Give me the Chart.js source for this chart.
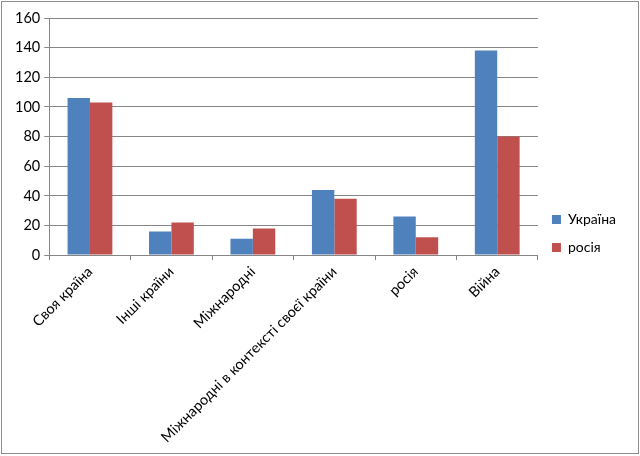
<!DOCTYPE html>
<html>
<head>
<meta charset="utf-8">
<script src="https://cdn.jsdelivr.net/npm/chart.js@4"></script>
<style>
  html, body { margin: 0; padding: 0; background: #fff; }
  #frame { position: absolute; left: 1px; top: 1px; width: 636px; height: 451px; border: 1px solid #8c8c8c; }
  #wrap { position: absolute; left: 0; top: 0; width: 640px; height: 456px; }
</style>
</head>
<body>
<div id="frame"></div>
<div id="wrap"><canvas id="myChart"></canvas></div>
<script>
const categories = ['Своя країна', 'Інші країни', 'Міжнародні', 'Міжнародні в контексті своєї країни', 'росія', 'Війна'];
const ukraineValues = [106, 16, 11, 44, 26, 138];
const russiaValues = [103, 22, 18, 38, 12, 80];
const yTicks = [0, 20, 40, 60, 80, 100, 120, 140, 160];

const gridColor = '#868686';
const fontFamily = 'Lato, "Noto Sans", sans-serif';

var ctx = document.getElementById('myChart').getContext('2d');
var chart = new Chart(ctx, {
    type: 'bar',
    data: {
        labels: categories,
        datasets: [{
            label: 'Україна',
            backgroundColor: '#4F81BD',
            data: ukraineValues
        }, {
            label: 'росія',
            backgroundColor: '#C0504D',
            data: russiaValues
        }]
    },
    options: {
        responsive: true,
        maintainAspectRatio: false,
        animation: false,
        devicePixelRatio: 1,
        categoryPercentage: 0.55,
        barPercentage: 1,
        layout: { padding: { left: 11, top: 18, right: 14, bottom: 7 } },
        plugins: {
            tooltip: { enabled: false },
            legend: {
                position: 'right',
                labels: {
                    boxWidth: 9,
                    boxHeight: 9,
                    padding: 14,
                    color: '#000',
                    font: { family: fontFamily, size: 14 }
                }
            }
        },
        scales: {
            x: {
                grid: { drawOnChartArea: false, offset: true, tickLength: 5, color: gridColor },
                border: { color: gridColor },
                ticks: {
                    color: '#000',
                    minRotation: 45,
                    maxRotation: 45,
                    font: { family: fontFamily, size: 14.5 }
                }
            },
            y: {
                min: 0,
                max: 160,
                afterBuildTicks: function (axis) {
                    axis.ticks = yTicks.map(function (v) { return { value: v }; });
                },
                grid: { color: gridColor, tickLength: 5 },
                border: { color: gridColor },
                ticks: {
                    color: '#000',
                    padding: 4,
                    font: { family: fontFamily, size: 14.5 }
                }
            }
        }
    }
});
</script>
</body>
</html>
